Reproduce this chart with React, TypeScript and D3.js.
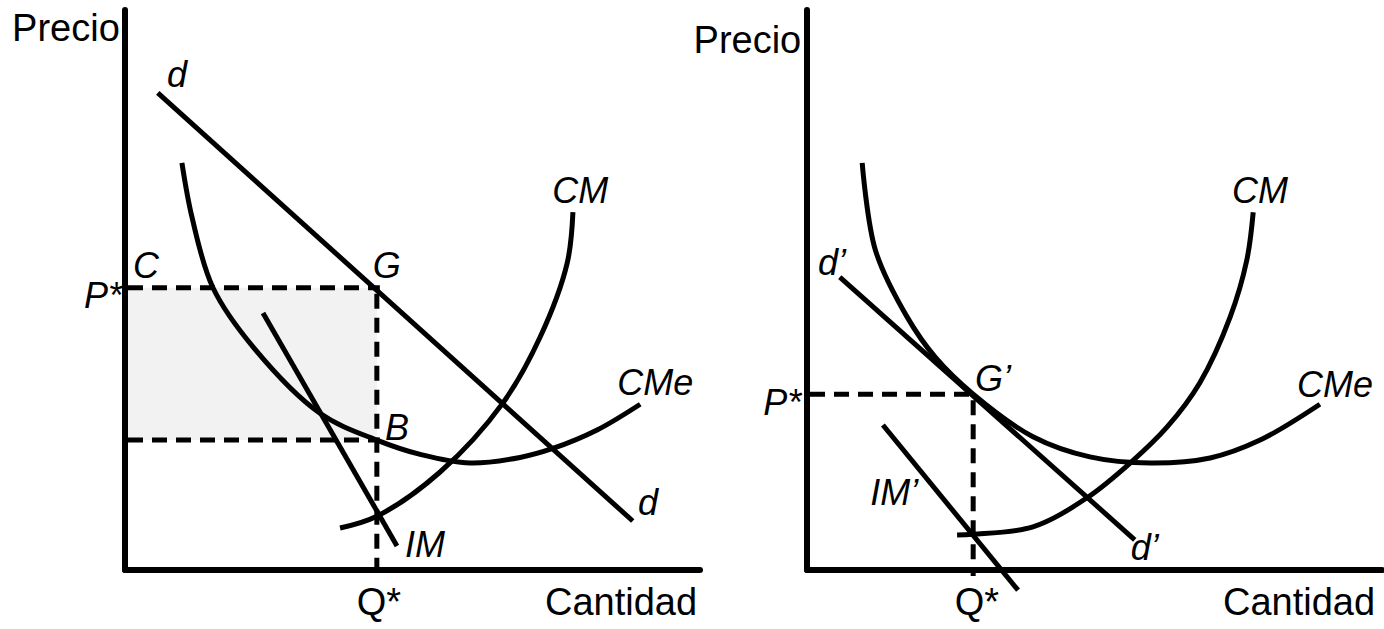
import React from "react";
import * as d3 from "d3";

// ---- Data (abstract units: quantity 0-100, price 0-100) ----
type Pt = [number, number];

// Left panel: short-run monopolistic competition with profits
const leftDemand: Pt[] = [[5.7, 85.2], [88.3, 8.75]];
const leftMR: Pt[] = [[24.0, 45.9], [47.3, 4.3]];
const leftATC: Pt[] = [
  [9.9, 72.7], [11.65, 63.0], [15.3, 50.4], [22.3, 39.8], [33.9, 28.0],
  [43.8, 23.2], [51.5, 20.6], [60.0, 19.1], [68.7, 20.1], [74.4, 21.7], [82.1, 25.0], [89.6, 29.6],
];
const leftMC: Pt[] = [
  [37.4, 7.5], [43.8, 9.6], [54.8, 17.5], [65.7, 29.8],
  [72.2, 41.6], [76.9, 54.8], [77.9, 63.9],
];
const leftQStar = 43.8;
const leftPStar = 50.4;
const leftCost = 23.2;

// Right panel: long-run equilibrium (tangency)
const rightDemand: Pt[] = [[5.7, 52.3], [57.0, 5.4]];
const rightMR: Pt[] = [[13.2, 25.9], [36.7, -3.6]];
const rightATC: Pt[] = [
  [9.6, 72.7], [11.9, 57.1], [17.4, 45.2], [22.3, 38.0], [28.9, 31.4],
  [39.3, 23.8], [49.2, 20.2], [59.7, 19.1], [70.1, 20.0], [78.8, 23.2], [89.2, 29.6],
];
const rightMC: Pt[] = [
  [26.1, 6.25], [28.9, 6.4], [39.3, 7.7], [48.7, 12.9], [56.2, 19.1],
  [62.6, 25.5], [68.3, 33.4], [73.6, 45.2], [76.5, 55.4], [77.6, 63.9],
];
const rightQStar = 28.9;
const rightPStar = 31.4;

type Label = { text: string; q: number; p: number; italic: boolean; anchor: "start" | "end" };

const leftLabels: Label[] = [
  { text: "Precio", q: -0.9, p: 94.5, italic: false, anchor: "end" },
  { text: "d", q: 7.3, p: 86.2, italic: true, anchor: "start" },
  { text: "C", q: 1.4, p: 52.1, italic: true, anchor: "start" },
  { text: "G", q: 43.1, p: 52.1, italic: true, anchor: "start" },
  { text: "P*", q: -0.5, p: 46.8, italic: true, anchor: "end" },
  { text: "B", q: 45.2, p: 23.2, italic: true, anchor: "start" },
  { text: "IM", q: 48.7, p: 2.3, italic: true, anchor: "start" },
  { text: "CM", q: 74.3, p: 65.5, italic: true, anchor: "start" },
  { text: "CMe", q: 85.6, p: 31.25, italic: true, anchor: "start" },
  { text: "d", q: 89.2, p: 9.8, italic: true, anchor: "start" },
  { text: "Q*", q: 40.3, p: -8.0, italic: false, anchor: "start" },
  { text: "Cantidad", q: 99.5, p: -8.0, italic: false, anchor: "end" },
];

const rightLabels: Label[] = [
  { text: "Precio", q: -1.0, p: 92.3, italic: false, anchor: "end" },
  { text: "d\u2019", q: 1.9, p: 52.7, italic: true, anchor: "start" },
  { text: "G\u2019", q: 29.2, p: 32.0, italic: true, anchor: "start" },
  { text: "P*", q: -1.0, p: 27.7, italic: true, anchor: "end" },
  { text: "IM\u2019", q: 11.0, p: 11.6, italic: true, anchor: "start" },
  { text: "d\u2019", q: 56.3, p: 1.8, italic: true, anchor: "start" },
  { text: "CM", q: 73.9, p: 65.5, italic: true, anchor: "start" },
  { text: "CMe", q: 85.2, p: 30.9, italic: true, anchor: "start" },
  { text: "Q*", q: 25.7, p: -8.0, italic: false, anchor: "start" },
  { text: "Cantidad", q: 98.8, p: -8.0, italic: false, anchor: "end" },
];

const FONT = "'Liberation Sans', Arial, sans-serif";

type PanelProps = {
  x0: number;
  demand: Pt[];
  mr: Pt[];
  atc: Pt[];
  mc: Pt[];
  qStar: number;
  pStar: number;
  cost?: number;
  labels: Label[];
};

function Panel({ x0, demand, mr, atc, mc, qStar, pStar, cost, labels }: PanelProps) {
  const x = d3.scaleLinear().domain([0, 100]).range([x0, x0 + 575]);
  const y = d3.scaleLinear().domain([0, 100]).range([570, 10]);
  const straight = d3.line<Pt>().x((d) => x(d[0])).y((d) => y(d[1]));
  const smooth = d3
    .line<Pt>()
    .x((d) => x(d[0]))
    .y((d) => y(d[1]))
    .curve(d3.curveCatmullRom.alpha(0.5));
  const dash = "15,9";
  return (
    <g>
      {cost !== undefined && (
        <rect
          x={x(0)}
          y={y(pStar)}
          width={x(qStar) - x(0)}
          height={y(cost) - y(pStar)}
          fill="#f2f2f2"
        />
      )}
      <path d={straight([[0, pStar], [qStar, pStar]]) || ""} stroke="#000" strokeWidth={5} strokeDasharray={dash} fill="none" transform="translate(3,0)" />
      <path d={straight([[qStar, pStar], [qStar, 0]]) || ""} stroke="#000" strokeWidth={5} strokeDasharray={dash} fill="none" transform="translate(0,6)" />
      {cost !== undefined && (
        <path d={straight([[0, cost], [qStar, cost]]) || ""} stroke="#000" strokeWidth={5} strokeDasharray={dash} fill="none" transform="translate(3,0)" />
      )}
      <path d={smooth(atc) || ""} stroke="#000" strokeWidth={5} fill="none" />
      <path d={smooth(mc) || ""} stroke="#000" strokeWidth={5} fill="none" />
      <path d={straight(demand) || ""} stroke="#000" strokeWidth={5} fill="none" />
      <path d={straight(mr) || ""} stroke="#000" strokeWidth={5} fill="none" />
      {/* axes */}
      <line x1={x(0)} y1={y(0)} x2={x(0)} y2={y(100)} stroke="#000" strokeWidth={6} strokeLinecap="round" />
      <line x1={x(0)} y1={y(0)} x2={x(100)} y2={y(0)} stroke="#000" strokeWidth={6} strokeLinecap="round" />
      {labels.map((l, i) => (
        <text
          key={i}
          x={x(l.q)}
          y={y(l.p)}
          textAnchor={l.anchor}
          fontFamily={FONT}
          fontSize={l.italic ? 36 : 38}
          fontStyle={l.italic ? "italic" : "normal"}
          fill="#000"
        >
          {l.text}
        </text>
      ))}
    </g>
  );
}

export default function App() {
  return (
    <svg
      width={1384}
      height={629}
      style={{ position: "absolute", left: 0, top: 0, background: "#fff" }}
    >
      <rect width={1384} height={629} fill="#fff" />
      <Panel
        x0={125}
        demand={leftDemand}
        mr={leftMR}
        atc={leftATC}
        mc={leftMC}
        qStar={leftQStar}
        pStar={leftPStar}
        cost={leftCost}
        labels={leftLabels}
      />
      <Panel
        x0={807}
        demand={rightDemand}
        mr={rightMR}
        atc={rightATC}
        mc={rightMC}
        qStar={rightQStar}
        pStar={rightPStar}
        labels={rightLabels}
      />
    </svg>
  );
}
